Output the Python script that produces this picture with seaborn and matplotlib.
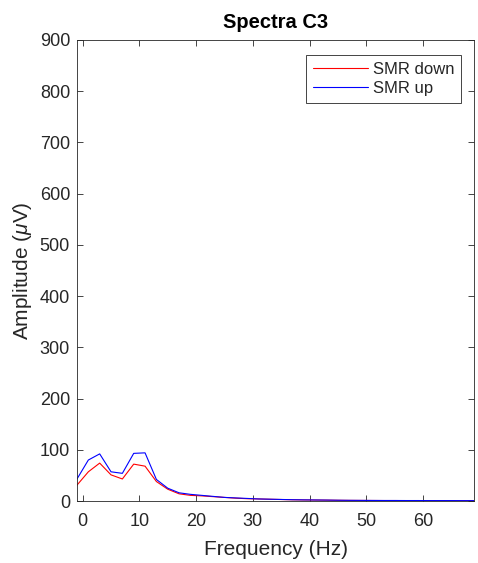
import numpy as np
import pandas as pd
import matplotlib
matplotlib.use("Agg")
import matplotlib.pyplot as plt
import seaborn as sns

freq = list(range(-1, 70, 2))
smr_down = [31, 57, 74, 51, 43, 72, 68, 38, 23, 14, 11, 10, 8.5, 7, 5.5, 4.5,
            4, 3.4, 2.9, 2.4, 2.1, 1.9, 1.7, 1.4, 1.2, 1.1, 1.0, 0.9, 0.9, 0.8,
            0.8, 0.7, 0.7, 0.7, 0.6, 0.6]
smr_up = [43, 80, 92, 57, 54, 93, 94, 42, 25, 16, 13, 11, 9, 7, 6, 5,
          4, 3.5, 3, 2.5, 2.2, 2.0, 1.8, 1.5, 1.3, 1.2, 1.1, 1.0, 1.0, 0.9,
          0.9, 0.8, 0.8, 0.8, 0.7, 0.7]
series_names = ["SMR down", "SMR up"]
x_ticks = [0, 10, 20, 30, 40, 50, 60]
y_ticks = [0, 100, 200, 300, 400, 500, 600, 700, 800, 900]

df = pd.DataFrame({
    "Frequency": freq * 2,
    "Amplitude": smr_down + smr_up,
    "Series": [series_names[0]] * len(freq) + [series_names[1]] * len(freq),
})

sns.set_style("white")
plt.rcParams["font.family"] = ["Liberation Sans", "DejaVu Sans"]
plt.rcParams["mathtext.fontset"] = "custom"
plt.rcParams["mathtext.it"] = "Liberation Sans:italic"

fig = plt.figure(figsize=(4.78, 5.63), dpi=100)
ax = fig.add_axes([77 / 478, 1 - 501 / 563, (474 - 77) / 478, (501 - 40) / 563])

sns.lineplot(data=df, x="Frequency", y="Amplitude", hue="Series",
             palette={"SMR down": "#ff0000", "SMR up": "#0000ff"},
             linewidth=0.8, ax=ax, legend=True)

ax.set_xlim(-1, 69)
ax.set_ylim(0, 900)
ax.set_xticks(x_ticks)
ax.set_yticks(y_ticks)
dark = "#262626"
ax.tick_params(direction="in", length=4, width=0.6, colors=dark,
               labelsize=13, top=True, right=True, left=True, bottom=True,
               labelcolor=dark, pad=5)
ax.tick_params(axis="x", pad=9)
for s in ax.spines.values():
    s.set_visible(True)
    s.set_color(dark)
    s.set_linewidth(0.6)

ax.set_xlabel("Frequency (Hz)", fontsize=15, color=dark, labelpad=7)
ax.set_ylabel(r"Amplitude ($\mu$V)", fontsize=15, color=dark, labelpad=4)
ax.set_title("Spectra C3", fontsize=14.5, fontweight="bold", color="black", pad=9)

leg = ax.legend(loc="upper right", bbox_to_anchor=(0.967, 0.967),
                borderaxespad=0, fontsize=12, frameon=True, fancybox=False,
                handlelength=3.3, handletextpad=0.3, borderpad=0.4,
                labelspacing=0.25, title=None)
leg.get_frame().set_edgecolor(dark)
leg.get_frame().set_linewidth(0.6)
leg.get_frame().set_alpha(1)
for line in leg.get_lines():
    line.set_linewidth(0.8)
for t in leg.get_texts():
    t.set_color(dark)

fig.savefig("out.png", dpi=100)
